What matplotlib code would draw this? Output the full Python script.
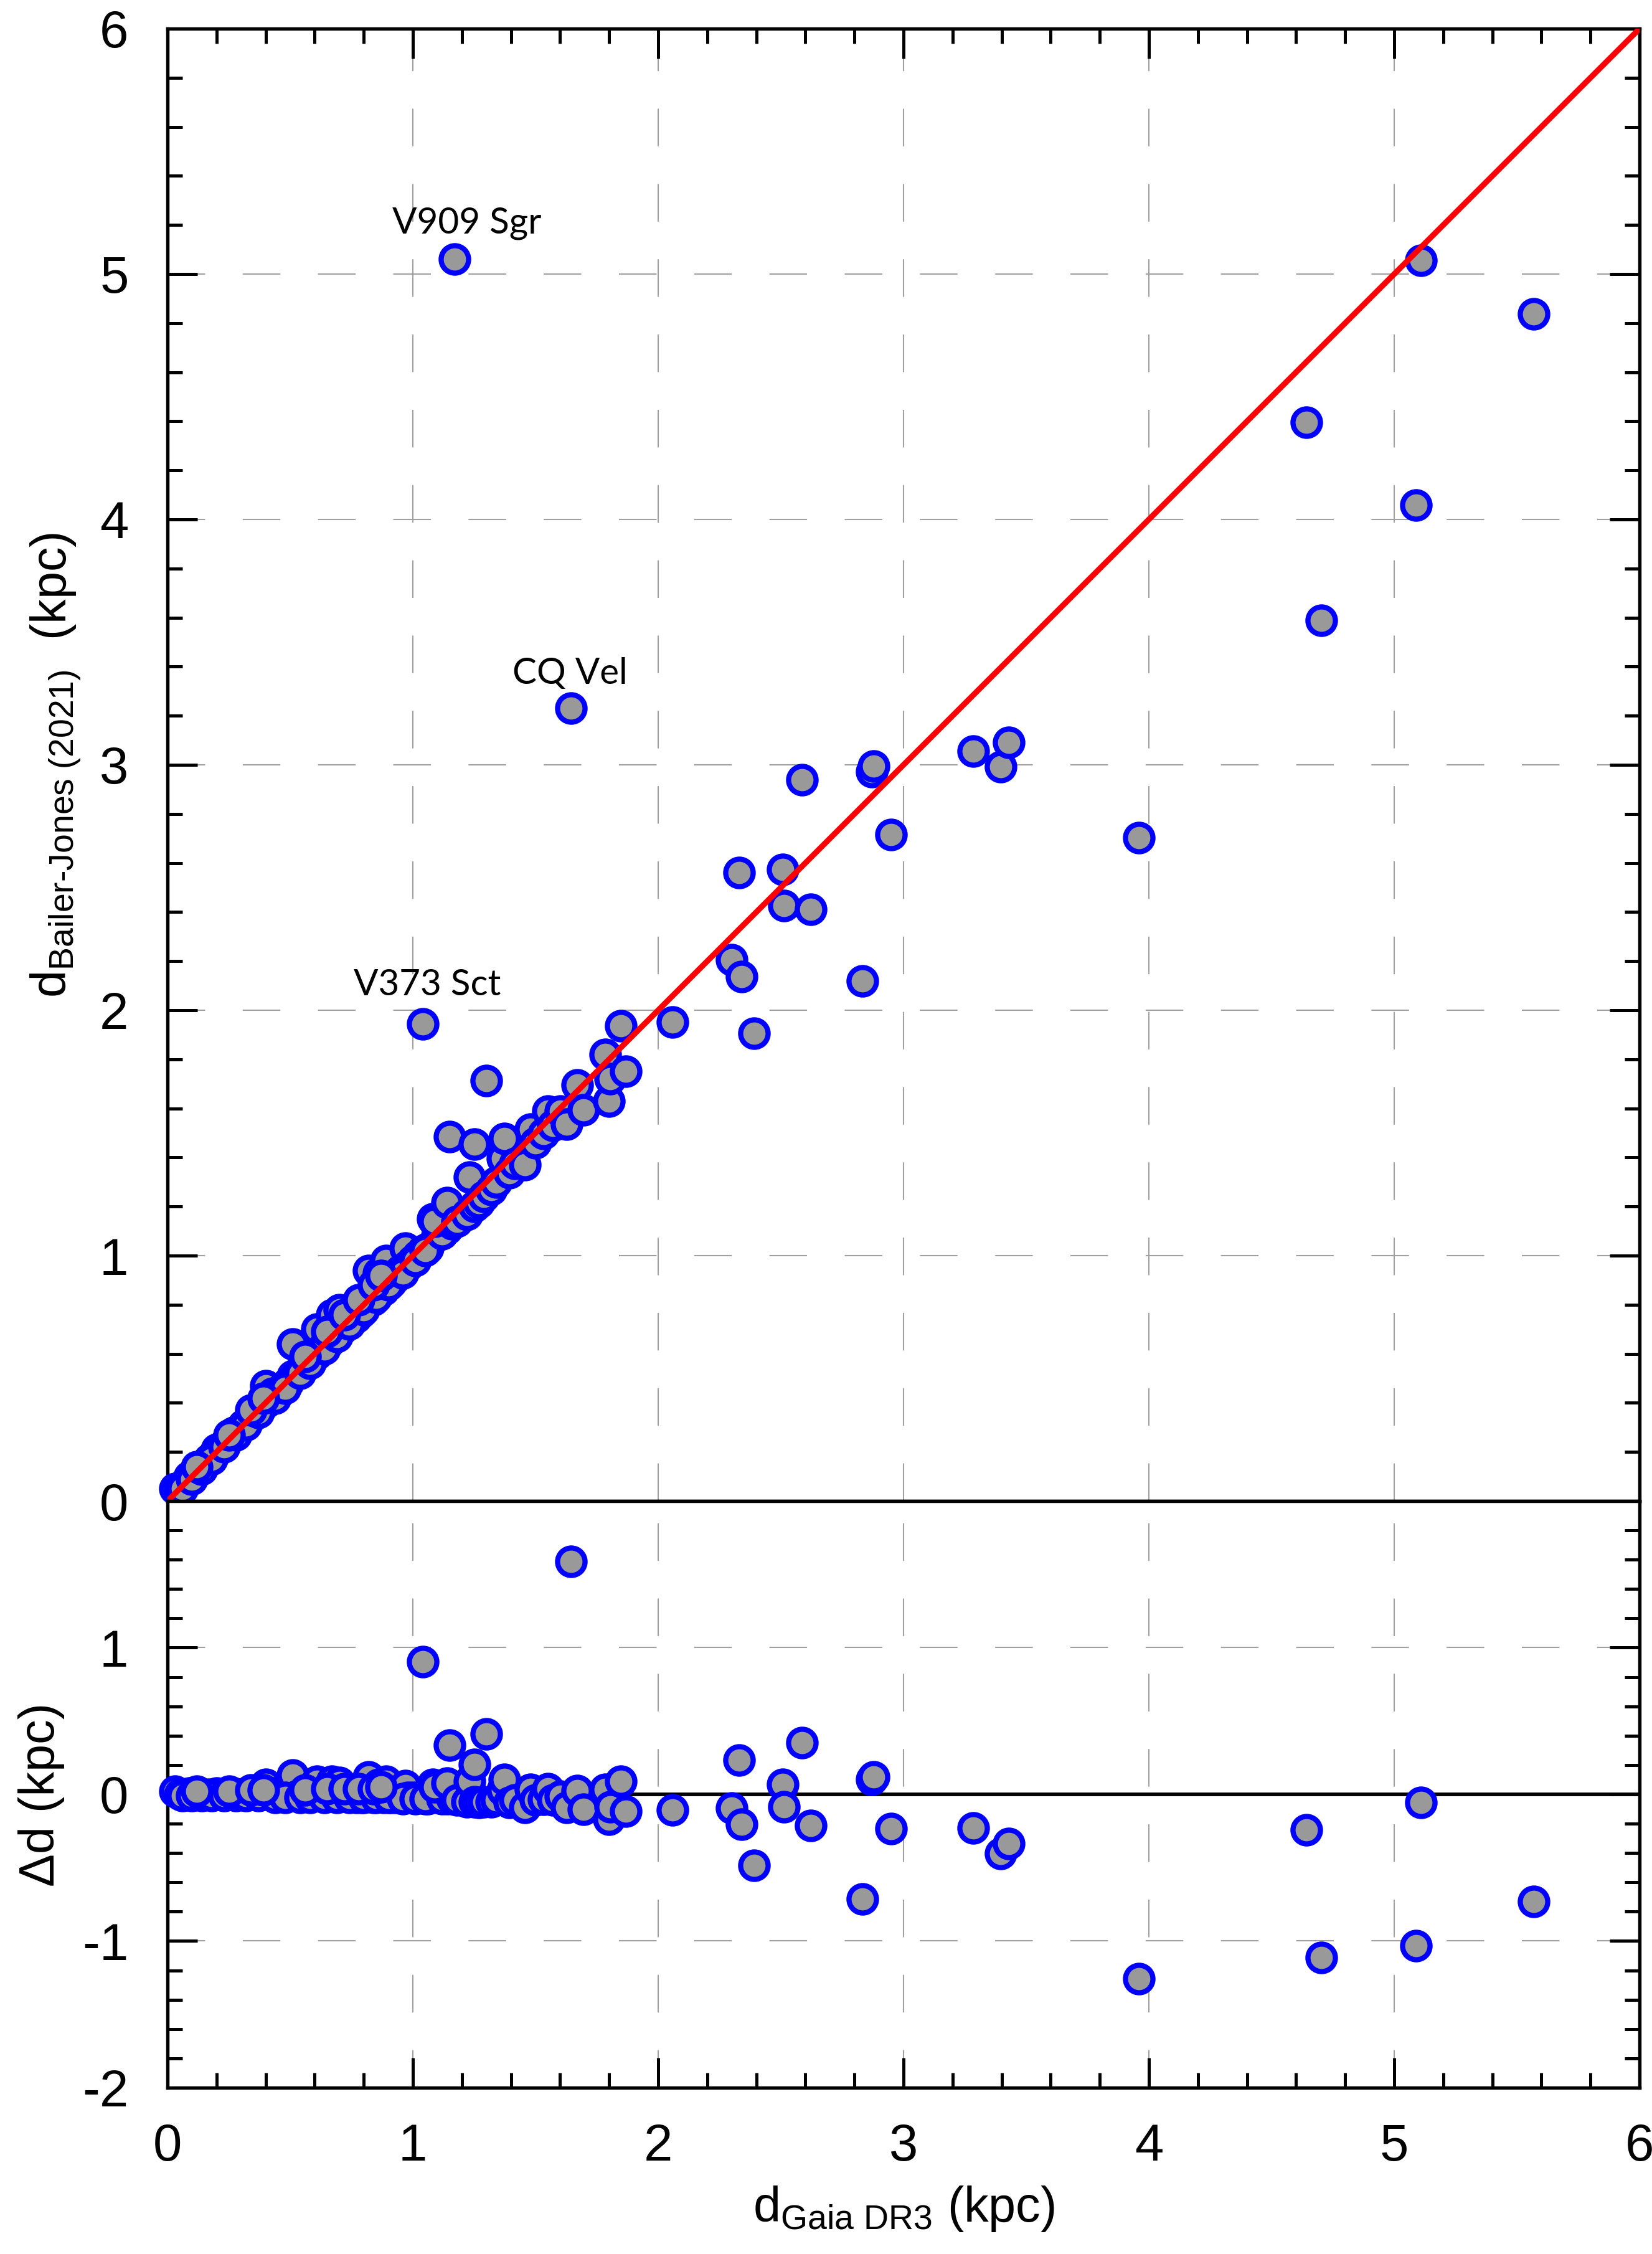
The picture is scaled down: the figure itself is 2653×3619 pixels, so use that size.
import matplotlib

matplotlib.use('Agg')
import matplotlib.pyplot as plt
from matplotlib.ticker import MultipleLocator
import numpy as np

# distances (kpc): Gaia DR3 vs Bailer-Jones (2021)
gaia_dr3 = [0.03, 0.05, 0.07, 0.09, 0.11, 0.13, 0.15, 0.17, 0.19, 0.20,
            0.22, 0.24, 0.26, 0.27, 0.29, 0.31, 0.33, 0.35, 0.36, 0.38,
            0.40, 0.40, 0.42, 0.43, 0.45, 0.47, 0.49, 0.51, 0.51, 0.53,
            0.55, 0.57, 0.59, 0.61, 0.61, 0.63, 0.66, 0.67, 0.68, 0.70,
            0.71, 0.73, 0.75, 0.77, 0.79, 0.81, 0.82, 0.84, 0.86, 0.88,
            0.89, 0.91, 0.93, 0.95, 0.97, 0.98, 1.00, 1.02, 1.04, 1.06,
            1.08, 1.10, 1.14,
            0.06, 0.10, 0.14, 0.18, 0.23, 0.28, 0.32, 0.37, 0.44, 0.48,
            0.54, 0.58, 0.64, 0.69, 0.74, 0.80, 0.85, 0.90, 0.96, 1.01,
            1.05, 1.12, 1.16, 1.20,
            0.12, 0.25, 0.34, 0.39, 0.56, 0.65, 0.72, 0.78, 0.84, 0.87,
            1.04, 1.09, 1.14, 1.15, 1.17, 1.18, 1.22, 1.23, 1.25, 1.25,
            1.27, 1.29, 1.30, 1.32, 1.34, 1.365, 1.373, 1.394, 1.415, 1.458,
            1.479, 1.50, 1.534, 1.551, 1.57, 1.602, 1.627, 1.644, 1.669, 1.695,
            1.783, 1.800, 1.805, 1.847, 1.868, 2.058,
            2.299, 2.329, 2.339, 2.390, 2.507, 2.512, 2.587, 2.621, 2.833, 2.870,
            2.878, 2.950, 3.285, 3.396, 3.428, 3.960, 4.641, 4.704, 5.089, 5.110,
            5.569]
bailer_jones = [0.05, 0.05, 0.07, 0.10, 0.11, 0.13, 0.15, 0.17, 0.19, 0.21,
                0.22, 0.24, 0.26, 0.28, 0.29, 0.31, 0.33, 0.35, 0.36, 0.38,
                0.40, 0.47, 0.42, 0.44, 0.44, 0.46, 0.48, 0.51, 0.64, 0.52,
                0.55, 0.56, 0.58, 0.60, 0.70, 0.62, 0.65, 0.76, 0.67, 0.78,
                0.70, 0.72, 0.74, 0.75, 0.77, 0.80, 0.94, 0.82, 0.93, 0.86,
                0.98, 0.89, 0.91, 0.94, 1.03, 0.96, 0.98, 1.00, 1.02, 1.03,
                1.15, 1.08, 1.11,
                0.05, 0.09, 0.13, 0.17, 0.22, 0.27, 0.31, 0.36, 0.42, 0.46,
                0.52, 0.56, 0.62, 0.67, 0.72, 0.78, 0.83, 0.88, 0.93, 0.98,
                1.02, 1.09, 1.13, 1.17,
                0.14, 0.27, 0.37, 0.42, 0.59, 0.69, 0.76, 0.82, 0.88, 0.92,
                1.945, 1.14, 1.215, 1.485, 5.06, 1.14, 1.167, 1.32, 1.455, 1.20,
                1.215, 1.24, 1.713, 1.27, 1.30, 1.396, 1.476, 1.337, 1.375, 1.37,
                1.515, 1.46, 1.498, 1.59, 1.53, 1.59, 1.536, 3.23, 1.696, 1.595,
                1.819, 1.629, 1.722, 1.937, 1.752, 1.952,
                2.205, 2.561, 2.136, 1.907, 2.573, 2.427, 2.938, 2.410, 2.12, 2.972,
                2.995, 2.715, 3.055, 2.993, 3.092, 2.704, 4.397, 3.590, 4.059, 5.056,
                4.838]

star_names = ['V909 Sgr', 'CQ Vel', 'V373 Sct']
name_pos = [(1.22, 5.165), (1.64, 3.33), (1.06, 2.06)]

gaia = np.array(gaia_dr3)
bj = np.array(bailer_jones)
delta = bj - gaia

plt.rcParams['font.family'] = ['Liberation Sans', 'DejaVu Sans']
plt.rcParams['mathtext.fontset'] = 'custom'
plt.rcParams['mathtext.rm'] = 'Liberation Sans'
plt.rcParams['mathtext.it'] = 'Liberation Sans:italic'

fig = plt.figure(figsize=(2654 / 300, 3619 / 300), dpi=300)
ax1 = fig.add_axes([0.10136, 0.33407, 0.89073, 0.65322])
ax2 = fig.add_axes([0.10136, 0.07378, 0.89073, 0.26029])


def style(ax):
    for s in ax.spines.values():
        s.set_linewidth(1.3)
    ax.xaxis.set_major_locator(MultipleLocator(1))
    ax.xaxis.set_minor_locator(MultipleLocator(0.2))
    ax.yaxis.set_minor_locator(MultipleLocator(0.2))
    ax.tick_params(which='both', direction='in', left=True, right=True,
                   width=1.2, labelsize=20)
    ax.tick_params(which='major', length=11.5)
    ax.tick_params(which='minor', length=5.75)
    ax.tick_params(axis='y', pad=15)
    ax.tick_params(axis='x', pad=13.5)
    ax.grid(True, which='major', color='#a0a0a0', lw=0.5, ls=(0, (29, 29)))
    ax.set_axisbelow(True)


style(ax1)
style(ax2)

marker = dict(s=112, c='#999999', edgecolors='#0000ff', linewidths=2.0, zorder=3, clip_on=False)

ax1.scatter(gaia, bj, **marker)
ax1.plot([0, 6], [0, 6], color='red', lw=2.2, zorder=4)
for name, (tx, ty) in zip(star_names, name_pos):
    ax1.text(tx, ty, name, ha='center', va='baseline', fontsize=14, family='Lato')
ax1.set_xlim(0, 6)
ax1.set_ylim(0, 6)
ax1.set_yticks([0, 1, 2, 3, 4, 5, 6])
ax1.tick_params(axis='x', which='both', bottom=False, top=True, labelbottom=False)
ax1.set_ylabel('$\\mathregular{d_{Bailer\u2010Jones\\ (2021)}}$  (kpc)', fontsize=19)
ax1.yaxis.set_label_coords(-0.0575, 0.5)

inside = np.abs(delta) < 2
ax2.axhline(0, color='black', lw=1.4, zorder=2)
ax2.scatter(gaia[inside], delta[inside], **marker)
ax2.set_xlim(0, 6)
ax2.set_ylim(-2, 2)
ax2.set_yticks([-2, -1, 0, 1, 2])
ax2.set_yticklabels(['-2', '-1', '0', '1', ''])
ax2.tick_params(axis='x', which='both', bottom=True, top=False)
ax2.set_ylabel('\u0394d (kpc)', fontsize=19)
ax2.yaxis.set_label_coords(-0.07, 0.5)
ax2.set_xlabel('$\\mathregular{d_{Gaia\\ DR3}}$ (kpc)', fontsize=19)
ax2.xaxis.set_label_coords(0.5, -0.165)

fig.savefig('out.png', dpi=300)
